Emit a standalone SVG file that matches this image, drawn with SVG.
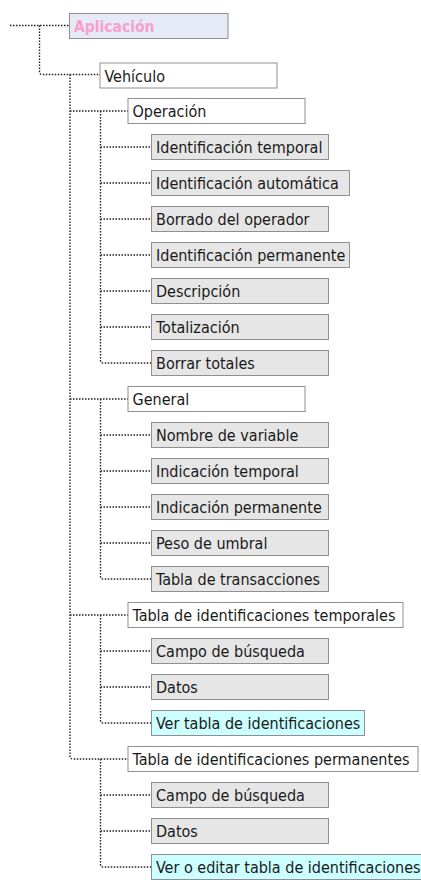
<svg xmlns="http://www.w3.org/2000/svg" width="421" height="880" viewBox="0 0 421 880">
<style>
.b rect{stroke:#8f8f8f;stroke-width:1}
.w rect{fill:#ffffff}
.g rect{fill:#e6e6e6}
.c rect{fill:#ccffff}
text{font-family:"DejaVu Sans Condensed","Liberation Sans",sans-serif;font-size:16px;fill:#1a1a1a}
.conn path{fill:none;stroke:#222;stroke-width:1.4;stroke-dasharray:1.5 1.5}
</style>
<rect width="421" height="880" fill="#ffffff"/>
<g class="conn" id="connectors">
<path d="M10,25.5 H69.5"/>
<path d="M39.5,25.5 V71.5 Q39.5,74.5 42.5,74.5 H100"/>
<path d="M70,74.5 V756 Q70,759 73,759 H128"/>
<path d="M70,111 H128 M70,399 H128 M70,615 H128"/>
<path d="M100.5,111 V360 Q100.5,363 103.5,363 H151.5"/>
<path d="M100.5,147 H151.5 M100.5,183 H151.5 M100.5,219 H151.5 M100.5,255 H151.5 M100.5,291 H151.5 M100.5,327 H151.5"/>
<path d="M100.5,399 V576 Q100.5,579 103.5,579 H151.5"/>
<path d="M100.5,435 H151.5 M100.5,471 H151.5 M100.5,507 H151.5 M100.5,543 H151.5"/>
<path d="M100.5,615 V720 Q100.5,723 103.5,723 H151.5"/>
<path d="M100.5,651 H151.5 M100.5,687 H151.5"/>
<path d="M100.5,759 V864 Q100.5,867 103.5,867 H151.5"/>
<path d="M100.5,795 H151.5 M100.5,831 H151.5"/>
</g>
<g id="aplicacion" class="b"><rect x="69.5" y="13.5" width="158.5" height="25" fill="#e5eaf6"/><text x="74" y="31.5" style="font-weight:bold;font-size:15.5px;fill:#f8a0cc">Aplicación</text></g>
<g id="vehiculo" class="b w"><rect x="100" y="63" width="177" height="25"/><text x="104.5" y="81.5">Vehículo</text></g>
<g id="operacion" class="b w"><rect x="128" y="98.5" width="177" height="25"/><text x="132.5" y="117">Operación</text></g>
<g id="op1" class="b g"><rect x="151.5" y="134.5" width="177" height="25"/><text x="156" y="153">Identificación temporal</text></g>
<g id="op2" class="b g"><rect x="151.5" y="170.5" width="198" height="25"/><text x="156" y="189">Identificación automática</text></g>
<g id="op3" class="b g"><rect x="151.5" y="206.5" width="177" height="25"/><text x="156" y="225">Borrado del operador</text></g>
<g id="op4" class="b g"><rect x="151.5" y="242.5" width="198" height="25"/><text x="156" y="261">Identificación permanente</text></g>
<g id="op5" class="b g"><rect x="151.5" y="278.5" width="177" height="25"/><text x="156" y="297">Descripción</text></g>
<g id="op6" class="b g"><rect x="151.5" y="314.5" width="177" height="25"/><text x="156" y="333">Totalización</text></g>
<g id="op7" class="b g"><rect x="151.5" y="350.5" width="177" height="25"/><text x="156" y="369">Borrar totales</text></g>
<g id="general" class="b w"><rect x="128" y="386.5" width="177" height="25"/><text x="132.5" y="405">General</text></g>
<g id="ge1" class="b g"><rect x="151.5" y="422.5" width="177" height="25"/><text x="156" y="441">Nombre de variable</text></g>
<g id="ge2" class="b g"><rect x="151.5" y="458.5" width="177" height="25"/><text x="156" y="477">Indicación temporal</text></g>
<g id="ge3" class="b g"><rect x="151.5" y="494.5" width="177" height="25"/><text x="156" y="513">Indicación permanente</text></g>
<g id="ge4" class="b g"><rect x="151.5" y="530.5" width="177" height="25"/><text x="156" y="549">Peso de umbral</text></g>
<g id="ge5" class="b g"><rect x="151.5" y="566.5" width="177" height="25"/><text x="156" y="585">Tabla de transacciones</text></g>
<g id="tablatemp" class="b w"><rect x="128" y="602.5" width="275" height="25"/><text x="132.5" y="621">Tabla de identificaciones temporales</text></g>
<g id="tt1" class="b g"><rect x="151.5" y="638.5" width="177" height="25"/><text x="156" y="657">Campo de búsqueda</text></g>
<g id="tt2" class="b g"><rect x="151.5" y="674.5" width="177" height="25"/><text x="156" y="693">Datos</text></g>
<g id="tt3" class="b c"><rect x="151.5" y="710.5" width="213" height="25"/><text x="156" y="729">Ver tabla de identificaciones</text></g>
<g id="tablaperm" class="b w"><rect x="128" y="746.5" width="290" height="25"/><text x="132.5" y="765">Tabla de identificaciones permanentes</text></g>
<g id="tp1" class="b g"><rect x="151.5" y="782.5" width="177" height="25"/><text x="156" y="801">Campo de búsqueda</text></g>
<g id="tp2" class="b g"><rect x="151.5" y="818.5" width="177" height="25"/><text x="156" y="837">Datos</text></g>
<g id="tp3" class="b c"><rect x="151.5" y="854.5" width="275" height="25"/><text x="156" y="873">Ver o editar tabla de identificaciones</text></g>
</svg>
